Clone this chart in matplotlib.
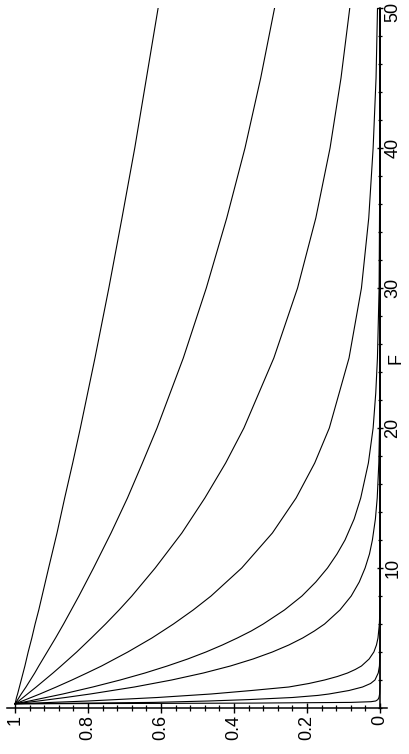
import matplotlib
matplotlib.use("Agg")
import matplotlib.pyplot as plt
import matplotlib.transforms as mtransforms
from matplotlib.ticker import FixedLocator, MultipleLocator, FixedFormatter

plt.rcParams['font.family'] = ['Liberation Sans', 'DejaVu Sans']

F = [0.3, 0.4, 0.5, 0.75, 1, 1.5, 2, 2.5, 3, 4, 5, 6, 7, 8, 10,
     12.5, 15, 17.5, 20, 25, 30, 35, 40, 45, 50]

# curve values, flattest first
c1 = [1.0, 0.999, 0.998, 0.996, 0.993, 0.988, 0.983, 0.978, 0.973, 0.964, 0.954, 0.945, 0.935, 0.926, 0.908,
      0.885, 0.864, 0.842, 0.821, 0.781, 0.743, 0.707, 0.672, 0.640, 0.608]
c2 = [1.0, 0.9975, 0.995, 0.989, 0.983, 0.970, 0.958, 0.946, 0.935, 0.912, 0.889, 0.867, 0.846, 0.825, 0.785,
      0.737, 0.692, 0.651, 0.611, 0.539, 0.476, 0.420, 0.370, 0.327, 0.289]
c3 = [1.0, 0.995, 0.990, 0.978, 0.966, 0.942, 0.919, 0.896, 0.874, 0.831, 0.791, 0.752, 0.715, 0.680, 0.616,
      0.543, 0.480, 0.423, 0.373, 0.291, 0.226, 0.176, 0.137, 0.107, 0.083]
c4 = [1.0, 0.990, 0.980, 0.956, 0.932, 0.887, 0.844, 0.803, 0.763, 0.691, 0.625, 0.566, 0.512, 0.463, 0.379,
      0.295, 0.230, 0.179, 0.139, 0.085, 0.051, 0.031, 0.019, 0.011, 0.007]

# steeper curves, read more densely where they bend
F5 = [0.3, 0.5, 1, 1.5, 2, 2.5, 3, 3.5, 4, 4.5, 5, 5.5, 6, 7, 8, 9, 10, 11, 12, 13.5,
      15, 17.5, 20, 22.5, 25, 30, 40, 50]
c5 = [1.0, 0.961, 0.869, 0.787, 0.712, 0.644, 0.583, 0.527, 0.477, 0.432, 0.391, 0.353, 0.320, 0.262,
      0.214, 0.176, 0.144, 0.118, 0.096, 0.071, 0.053, 0.032, 0.019, 0.0118, 0.0072, 0.0026, 0.0004, 0.0]
F6 = [0.3, 0.5, 0.75, 1, 1.5, 2, 2.5, 3, 3.5, 4, 4.5, 5, 5.5, 6, 7, 8, 9, 10, 11, 12,
      13.5, 15, 17.5, 20, 25, 30, 50]
c6 = [1.0, 0.936, 0.862, 0.794, 0.673, 0.571, 0.484, 0.410, 0.348, 0.295, 0.250, 0.212, 0.180, 0.152,
      0.110, 0.079, 0.057, 0.041, 0.029, 0.021, 0.0128, 0.0078, 0.0034, 0.0015, 0.0003, 0.0001, 0.0]
F7 = [0.3, 0.5, 0.75, 1, 1.25, 1.5, 1.75, 2, 2.25, 2.5, 2.75, 3, 3.5, 4, 4.5, 5, 6, 7, 8, 10, 50]
c7 = [1.0, 0.80, 0.61, 0.463, 0.352, 0.25, 0.195, 0.152, 0.117, 0.089, 0.068, 0.051, 0.030, 0.017,
      0.0099, 0.0057, 0.0019, 0.0006, 0.0002, 0.0, 0.0]
F8 = [0.3, 0.4, 0.5, 0.6, 0.75, 0.9, 1, 1.25, 1.5, 1.75, 2, 2.5, 3, 4, 5, 50]
c8 = [1.0, 0.62, 0.47, 0.36, 0.24, 0.17, 0.14, 0.085, 0.048, 0.026, 0.014, 0.005, 0.0017, 0.0003, 0.0, 0.0]
F9 = [0.3, 0.35, 0.4, 0.45, 0.5, 0.6, 0.75, 1, 1.5, 2, 50]
c9 = [1.0, 0.35, 0.08, 0.025, 0.012, 0.006, 0.003, 0.0012, 0.0003, 0.0, 0.0]

series = [(F, c1), (F, c2), (F, c3), (F, c4), (F5, c5), (F6, c6), (F7, c7), (F8, c8), (F9, c9)]

value_ticks = [0, 0.2, 0.4, 0.6, 0.8, 1]
value_labels = ['0', '0.2', '0.4', '0.6', '0.8', '1']
F_ticks = [10, 20, 30, 40, 50]
F_labels = ['10', '20', '30', '40', '50']

fig = plt.figure(figsize=(4.09, 7.54), dpi=100)
ax = fig.add_axes([7 / 409, 46 / 754, 380 / 409, 700 / 754])

# the plot is turned on its side: value runs right to left, F bottom to top
for fx, c in series:
    ax.plot(c, fx, color='black', lw=0.8)

ax.set_xlim(1.022, -0.019)
ax.set_ylim(0, 50)

ax.spines['top'].set_visible(False)
ax.spines['left'].set_visible(False)
ax.spines['right'].set_position(('data', 0))
ax.spines['right'].set_linewidth(1.1)
ax.spines['bottom'].set_linewidth(1.1)

ax.yaxis.tick_right()
ax.yaxis.set_major_locator(FixedLocator(F_ticks))
ax.yaxis.set_major_formatter(FixedFormatter(F_labels))
ax.yaxis.set_minor_locator(MultipleLocator(2))
ax.xaxis.set_major_locator(FixedLocator(value_ticks))
ax.xaxis.set_major_formatter(FixedFormatter(value_labels))
ax.xaxis.set_minor_locator(MultipleLocator(0.04))

ax.tick_params(axis='x', which='major', direction='inout', length=7.5, width=1, labelsize=13, pad=1,
               labelrotation=90)
ax.tick_params(axis='x', which='minor', direction='inout', length=4.5, width=0.9)
ax.tick_params(axis='y', which='major', direction='inout', length=5, width=1, labelsize=13, pad=0.5,
               labelrotation=90)
ax.tick_params(axis='y', which='minor', direction='inout', length=3.5, width=0.9)
ylabs = ax.get_yticklabels()
for lab in ylabs:
    lab.set_va('center')
# the top label sits at the very edge; nudge it down so it stays on the canvas
ylabs[-1].set_transform(ylabs[-1].get_transform() +
                        mtransforms.ScaledTranslation(0, -3 / 72, fig.dpi_scale_trans))

ax.yaxis.set_label_position('right')
ax.set_ylabel('F', fontsize=13, rotation=90)
ax.yaxis.set_label_coords(1.024, 0.5)
ax.yaxis.label.set_va('center')
ax.yaxis.label.set_ha('center')

fig.savefig('out.png', dpi=100)
